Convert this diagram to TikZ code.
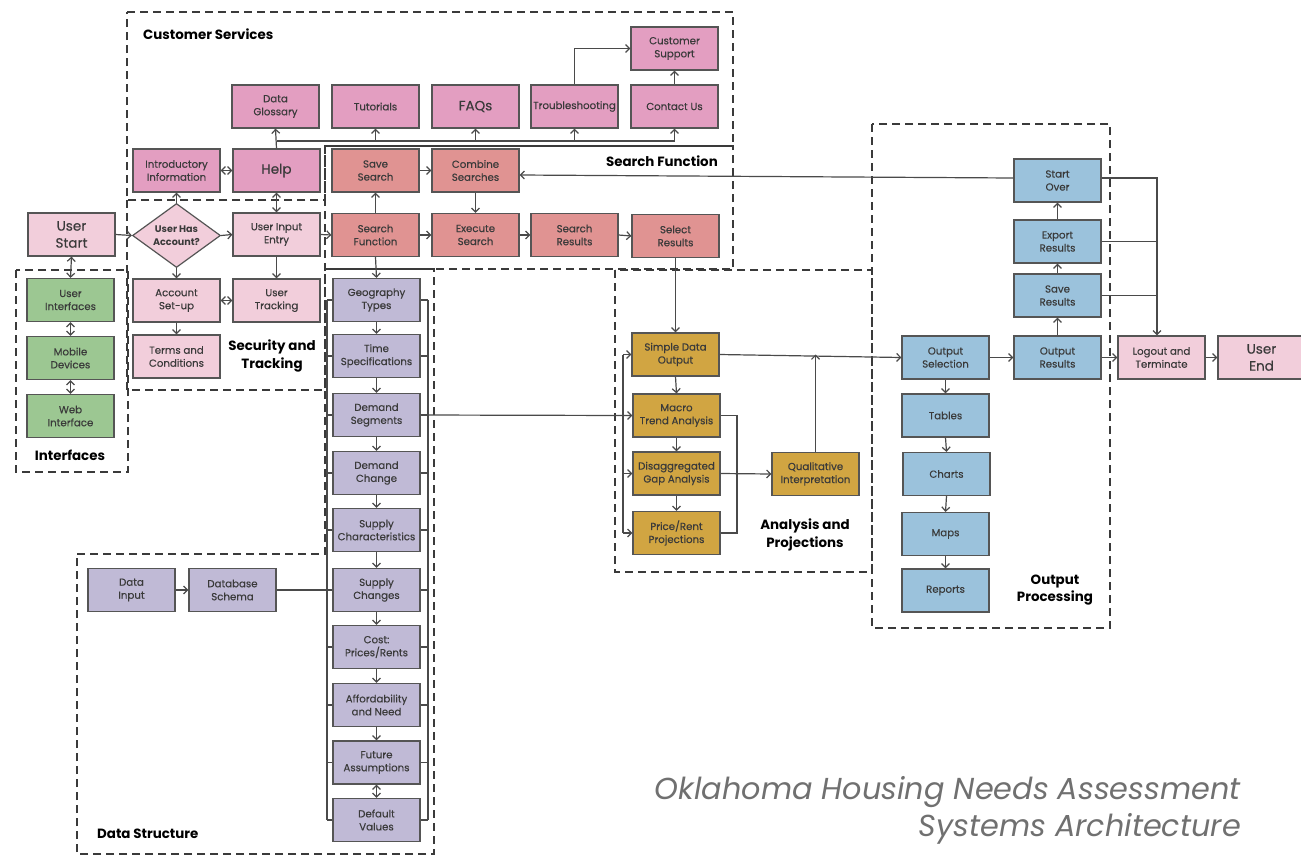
\documentclass[tikz,border=0pt]{standalone}
\usepackage{fontspec}
\setmainfont{Poppins}
\newfontfamily\medfont{Poppins}[FakeBold=0.35]
\usetikzlibrary{arrows.meta,shapes.geometric}
\definecolor{cspink}{HTML}{E39EC1}
\definecolor{lpink}{HTML}{F2CEDB}
\definecolor{sred}{HTML}{E09392}
\definecolor{purp}{HTML}{C0BAD6}
\definecolor{grn}{HTML}{9CC792}
\definecolor{gold}{HTML}{D1A542}
\definecolor{blu}{HTML}{9BC2DC}
\definecolor{boxline}{HTML}{555555}
\definecolor{linec}{HTML}{4A4A4A}
\definecolor{dashc}{HTML}{3A3A3A}
\definecolor{txt}{HTML}{3A3A3A}
\definecolor{titlec}{HTML}{707070}
\tikzset{
 box/.style={draw=boxline, line width=1.2pt, minimum width=87pt, minimum height=43pt, inner sep=1pt, align=center, font=\medfont\fontsize{10.2}{13}\selectfont, text=txt},
 cs/.style={box, fill=cspink},
 lp/.style={box, fill=lpink},
 sf/.style={box, fill=sred},
 ds/.style={box, fill=purp},
 gr/.style={box, fill=grn},
 an/.style={box, fill=gold},
 op/.style={box, fill=blu},
 bigtxt/.style={font=\medfont\fontsize{13.5}{17}\selectfont},
 conn/.style={draw=linec, line width=1.2pt},
 arr/.style={conn, -{Straight Barb[length=4pt,width=8pt]}},
 darr/.style={conn, {Straight Barb[length=4pt,width=8pt]}-{Straight Barb[length=4pt,width=8pt]}},
 region/.style={draw=dashc, line width=1.4pt, dash pattern=on 8pt off 5pt},
 rlabel/.style={font=\bfseries\fontsize{13.4}{17.5}\selectfont, text=black, align=center, inner sep=0pt},
 diam/.style={draw=boxline, line width=1.2pt, fill=lpink, diamond, minimum width=88pt, minimum height=64pt, inner sep=0pt},
}
\begin{document}
\begin{tikzpicture}[x=1pt,y=-1pt]
\useasboundingbox (0,0) rectangle (1301,855);
\fill[white] (0,0) rectangle (1301,855);

% regions
\draw[region] (127,12) -- (733,12) -- (733,146) -- (325,146) -- (325,200) -- (127,200) -- cycle;
\draw[region] (325,146) rectangle (733,269);
\draw[region] (127,200) rectangle (325,390);
\draw[region] (16,270) rectangle (128,472);
\draw[region] (77,554) -- (325,554) -- (325,269) -- (434,269) -- (434,854) -- (77,854) -- cycle;
\draw[region] (615,270) rectangle (872,572);
\draw[region] (872,124) rectangle (1110,628);

% region labels
\node[rlabel, anchor=west] (lcs) at (143,34) {Customer Services};
\node[rlabel, anchor=east] (lsf) at (718,161) {Search Function};
\node[rlabel] (lst) at (272,356) {Security and\\Tracking};
\node[rlabel] (lif) at (70,455) {Interfaces};
\node[rlabel, anchor=west] (lds) at (97,834) {Data Structure};
\node[rlabel] (lap) at (805,535) {Analysis and\\Projections};
\node[rlabel] (lop) at (1055,590) {Output\\Processing};

% customer services
\node[cs] (gloss) at (275.5,106.5) {Data\\Glossary};
\node[cs] (tut) at (375.5,106.5) {Tutorials};
\node[cs, bigtxt] (faq) at (475.5,106.5) {FAQs};
\node[cs] (trouble) at (574.5,106.5) {Troubleshooting};
\node[cs] (contact) at (674.5,106.5) {Contact Us};
\node[cs] (support) at (674.5,48.5) {Customer\\Support};
\node[cs] (intro) at (176.5,170.5) {Introductory\\Information};
\node[cs, bigtxt] (help) at (276.5,170.5) {Help};

% security
\node[lp, bigtxt] (start) at (71.5,234.5) {User\\Start};
\node[diam] (acct) at (176.5,235.5) {};
\node[font=\bfseries\fontsize{9.6}{13}\selectfont, text=txt, align=center] (acctt) at (acct.center) {User Has\\Account?};
\node[lp] (input) at (276.5,234.5) {User Input\\Entry};
\node[lp] (setup) at (176.5,300.5) {Account\\Set-up};
\node[lp] (track) at (276.5,300.5) {User\\Tracking};
\node[lp] (terms) at (176.5,356.5) {Terms and\\Conditions};

% interfaces
\node[gr] (ui) at (70.5,300) {User\\Interfaces};
\node[gr] (mobile) at (70.5,358) {Mobile\\Devices};
\node[gr] (web) at (70.5,416) {Web\\Interface};

% search function
\node[sf] (save) at (375.5,170.5) {Save\\Search};
\node[sf] (combine) at (475.5,170.5) {Combine\\Searches};
\node[sf] (searchfn) at (375.5,235) {Search\\Function};
\node[sf] (execute) at (475.5,235) {Execute\\Search};
\node[sf] (sresults) at (574.5,235) {Search\\Results};
\node[sf] (select) at (675.5,236) {Select\\Results};

% data structure
\node[ds] (geo) at (376.5,300) {Geography\\Types};
\node[ds] (time) at (376.5,356) {Time\\Specifications};
\node[ds] (seg) at (376.5,415) {Demand\\Segments};
\node[ds] (dchange) at (376.5,473) {Demand\\Change};
\node[ds] (schar) at (376.5,530) {Supply\\Characteristics};
\node[ds] (schange) at (376.5,590) {Supply\\Changes};
\node[ds] (cost) at (376.5,647) {Cost:\\Prices/Rents};
\node[ds] (afford) at (376.5,705) {Affordability\\and Need};
\node[ds] (future) at (376.5,762.5) {Future\\Assumptions};
\node[ds] (default) at (376.5,820) {Default\\Values};
\node[ds] (dinput) at (131.5,590) {Data\\Input};
\node[ds] (schema) at (232.5,590) {Database\\Schema};

% analysis
\node[an] (simple) at (675.5,354.5) {Simple Data\\Output};
\node[an] (macro) at (676.5,415.5) {Macro\\Trend Analysis};
\node[an] (gap) at (676.5,473.5) {Disaggregated\\Gap Analysis};
\node[an] (price) at (676.5,533) {Price/Rent\\Projections};
\node[an] (qual) at (815.5,474) {Qualitative\\Interpretation};

% output
\node[op] (outsel) at (945.5,357.5) {Output\\Selection};
\node[op] (tables) at (945.5,415.5) {Tables};
\node[op] (charts) at (946.5,474) {Charts};
\node[op] (maps) at (945.5,534) {Maps};
\node[op] (reports) at (945.5,590.5) {Reports};
\node[op] (outres) at (1057.5,357.5) {Output\\Results};
\node[op] (saveres) at (1057.5,295.5) {Save\\Results};
\node[op] (export) at (1057.5,241.5) {Export\\Results};
\node[op] (startover) at (1057.5,180.5) {Start\\Over};
\node[lp] (logout) at (1161.5,357.5) {Logout and\\Terminate};
\node[lp, bigtxt] (uend) at (1261.5,357.5) {User\\End};

% title
\node[anchor=base east, font=\itshape\fontsize{30.3}{37}\selectfont, text=titlec, inner sep=0pt] (title1) at (1241,799) {Oklahoma Housing Needs Assessment};
\node[anchor=base east, font=\itshape\fontsize{30.3}{37}\selectfont, text=titlec, inner sep=0pt] (title2) at (1241,836) {Systems Architecture};

% connectors: customer services
\coordinate (bus) at (0,141);
\draw[arr] (help.north) -- (gloss.south);
\draw[conn] (help.north |- bus) -- (contact.south |- bus);
\draw[arr] (tut.south |- bus) -- (tut.south);
\draw[arr] (faq.south |- bus) -- (faq.south);
\draw[arr] (trouble.south |- bus) -- (trouble.south);
\draw[arr] (contact.south |- bus) -- (contact.south);
\draw[arr] (trouble.north) |- (support.west);
\draw[arr] (contact.north) -- (support.south);
\draw[darr] (intro.east) -- (help.west);
\draw[darr] (help.south) -- (input.north);

% security
\draw[arr] (acct.north) -- (intro.south);
\draw[arr] (start.east) -- (acct.west);
\draw[arr] (acct.east) -- (input.west);
\draw[arr] (acct.south) -- (setup.north);
\draw[darr] (setup.east) -- (track.west);
\draw[arr] (input.south) -- (track.north);
\draw[arr] (setup.south) -- (terms.north);
\draw[darr] (start.south) -- (ui.north);
\draw[darr] (ui.south) -- (mobile.north);
\draw[darr] (mobile.south) -- (web.north);

% search
\draw[arr] (input.east) -- (searchfn.west);
\draw[arr] (searchfn.north) -- (save.south);
\draw[arr] (save.east) -- (combine.west);
\draw[arr] (combine.south) -- (execute.north);
\draw[arr] (searchfn.east) -- (execute.west);
\draw[arr] (execute.east) -- (sresults.west);
\draw[arr] (sresults.east) -- (select.west);
\draw[arr] (searchfn.south) -- (geo.north);
\draw[arr] (select.south) -- (simple.north);

% data column
\draw[arr] (geo.south) -- (time.north);
\draw[arr] (time.south) -- (seg.north);
\draw[arr] (seg.south) -- (dchange.north);
\draw[arr] (dchange.south) -- (schar.north);
\draw[arr] (schar.south) -- (schange.north);
\draw[arr] (schange.south) -- (cost.north);
\draw[arr] (cost.south) -- (afford.north);
\draw[arr] (afford.south) -- (future.north);
\draw[darr] (future.south) -- (default.north);
\coordinate (lb) at (327,0);
\coordinate (rbk) at (428,0);
\draw[conn] (lb |- geo.west) -- (lb |- default.west);
\draw[conn] (rbk |- geo.east) -- (rbk |- default.east);
\foreach \n in {geo,time,seg,dchange,schar,schange,cost,afford,future,default}{
  \draw[conn] (lb |- \n.west) -- (\n.west);
  \draw[conn] (rbk |- \n.east) -- (\n.east);
}
\draw[arr] (dinput.east) -- (schema.west);
\draw[conn] (schema.east) -- (lb |- schema.east);

% analysis
\draw[arr] (seg.east) -- (macro.west);
\coordinate (ab) at (623,0);
\draw[conn] (ab |- simple.west) -- (ab |- price.west);
\draw[arr] (ab |- simple.west) -- (simple.west);
\draw[arr] (ab |- gap.west) -- (gap.west);
\draw[arr] (ab |- price.west) -- (price.west);
\draw[arr] (simple.south) -- (macro.north);
\draw[arr] (macro.south) -- (gap.north);
\draw[arr] (gap.south) -- (price.north);
\coordinate (arb) at (737,0);
\draw[conn] (macro.east) -| (arb |- price.east) -- (price.east);
\draw[arr] (gap.east) -- (qual.west);
\draw[arr] (qual.north) -- (qual.north |- simple.east);
\draw[arr] (simple.east) -- (outsel.west);

% output
\draw[arr] (outsel.east) -- (outres.west);
\draw[arr] (outres.north) -- (saveres.south);
\draw[arr] (saveres.north) -- (export.south);
\draw[arr] (export.north) -- (startover.south);
\draw[arr] (outsel.south) -- (tables.north);
\draw[arr] (tables.south) -- (charts.north);
\draw[arr] (charts.south) -- (maps.north);
\draw[arr] (maps.south) -- (reports.north);
\draw[arr] ([yshift=2.5pt]startover.west) -- ([yshift=-4.5pt]combine.east);
\coordinate (rb) at (1157,0);
\draw[arr] ([yshift=2.5pt]startover.east) -| (rb |- logout.north);
\draw[conn] (export.east) -- (rb |- export.east);
\draw[conn] (saveres.east) -- (rb |- saveres.east);
\draw[arr] (outres.east) -- (logout.west);
\draw[arr] (logout.east) -- (uend.west);
\end{tikzpicture}
\end{document}
